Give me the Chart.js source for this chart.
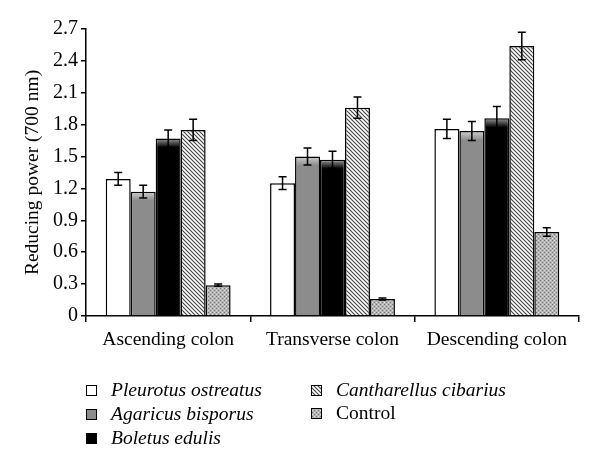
<!DOCTYPE html>
<html>
<head>
<meta charset="utf-8">
<script src="https://cdn.jsdelivr.net/npm/chart.js@4"></script>
<style>
  html, body { margin: 0; padding: 0; background: #fff; }
  #wrap { width: 600px; height: 473px; position: relative; }
</style>
</head>
<body>
<div id="wrap"><canvas id="RPChart" width="600" height="473"></canvas></div>
<script>
// categories and series
const categories = ['Ascending colon', 'Transverse colon', 'Descending colon'];
const seriesNames = ['Pleurotus ostreatus', 'Agaricus bisporus', 'Boletus edulis', 'Cantharellus cibarius', 'Control'];
const pleurotus = [1.29, 1.25, 1.76];
const agaricus = [1.17, 1.50, 1.74];
const boletus = [1.67, 1.47, 1.86];
const cantharellus = [1.75, 1.96, 2.54];
const control = [0.29, 0.16, 0.79];
// error bar half-heights
const pleurotusErr = [0.06, 0.06, 0.09];
const agaricusErr = [0.06, 0.08, 0.09];
const boletusErr = [0.08, 0.08, 0.11];
const cantharellusErr = [0.10, 0.10, 0.13];
const controlErr = [0.01, 0.01, 0.04];
const yTicks = [0, 0.3, 0.6, 0.9, 1.2, 1.5, 1.8, 2.1, 2.4, 2.7];

const serif = '"Liberation Serif", "DejaVu Serif", serif';
Chart.defaults.font.family = serif;
Chart.defaults.color = '#000';

//Patterns for the hatched and stippled bars
function hatchPattern() {
    const c = document.createElement('canvas');
    c.width = 4; c.height = 4;
    const ctx = c.getContext('2d');
    ctx.fillStyle = '#fff';
    ctx.fillRect(0, 0, 4, 4);
    ctx.strokeStyle = '#444';
    ctx.lineWidth = 1.1;
    ctx.beginPath();
    ctx.moveTo(-1, -1); ctx.lineTo(5, 5);
    ctx.moveTo(-1, 3); ctx.lineTo(1, 5);
    ctx.moveTo(3, -1); ctx.lineTo(5, 1);
    ctx.stroke();
    return ctx.createPattern(c, 'repeat');
}

function stipplePattern() {
    const c = document.createElement('canvas');
    c.width = 4; c.height = 4;
    const ctx = c.getContext('2d');
    ctx.fillStyle = '#b4b4b4';
    ctx.fillRect(0, 0, 4, 4);
    ctx.fillStyle = '#7a7a7a';
    ctx.fillRect(0, 0, 1, 1);
    ctx.fillRect(2, 2, 1, 1);
    ctx.fillStyle = '#dcdcdc';
    ctx.fillRect(2, 0, 1, 1);
    ctx.fillRect(0, 2, 1, 1);
    return ctx.createPattern(c, 'repeat');
}

const hatch = hatchPattern();
const stipple = stipplePattern();

// shaded top for the solid bars
function shadedFill(base, light) {
    return function (context) {
        const chart = context.chart;
        if (!chart.chartArea || context.type !== 'data') return base;
        const y = chart.scales.y.getPixelForValue(context.raw);
        const g = chart.ctx.createLinearGradient(0, y, 0, y + 9);
        g.addColorStop(0, light);
        g.addColorStop(1, base);
        return g;
    };
}

const errorSets = [pleurotusErr, agaricusErr, boletusErr, cantharellusErr, controlErr];

const errorBars = {
    id: 'errorBars',
    afterDatasetsDraw(chart) {
        const ctx = chart.ctx;
        const yScale = chart.scales.y;
        ctx.save();
        ctx.strokeStyle = '#000';
        ctx.lineWidth = 1.5;
        chart.data.datasets.forEach((ds, i) => {
            const meta = chart.getDatasetMeta(i);
            meta.data.forEach((bar, j) => {
                const v = ds.data[j];
                const e = errorSets[i][j];
                const top = yScale.getPixelForValue(v + e);
                const bot = yScale.getPixelForValue(v - e);
                ctx.beginPath();
                ctx.moveTo(bar.x, top); ctx.lineTo(bar.x, bot);
                ctx.moveTo(bar.x - 4, top); ctx.lineTo(bar.x + 4, top);
                ctx.moveTo(bar.x - 4, bot); ctx.lineTo(bar.x + 4, bot);
                ctx.stroke();
            });
        });
        ctx.restore();
    }
};

//Legend drawn in two columns under the axis
const legendBoxes = {
    id: 'legendBoxes',
    afterDraw(chart) {
        const ctx = chart.ctx;
        const spots = [[86, 390], [86, 414], [86, 438], [311, 390], [311, 413]];
        const fills = ['#fff', '#8c8c8c', '#000', hatch, stipple];
        ctx.save();
        chart.data.datasets.forEach((ds, i) => {
            const [x, y] = spots[i];
            ctx.fillStyle = fills[i];
            ctx.fillRect(x, y - 5, 10, 10);
            ctx.strokeStyle = '#000';
            ctx.lineWidth = 1;
            ctx.strokeRect(x + 0.5, y - 4.5, 10, 10);
            ctx.fillStyle = '#000';
            ctx.font = (i < 4 ? 'italic ' : '') + '19.5px ' + serif;
            ctx.textBaseline = 'middle';
            ctx.fillText(ds.label, x + 25, y + 1);
        });
        ctx.restore();
    }
};

document.addEventListener('DOMContentLoaded', () => {
    const RP = document.getElementById('RPChart');

    const data = {
        labels: categories,
        datasets: [{
            label: seriesNames[0],
            data: pleurotus,
            backgroundColor: '#fff'
        }, {
            label: seriesNames[1],
            data: agaricus,
            backgroundColor: shadedFill('#8c8c8c', '#d0d0d0')
        }, {
            label: seriesNames[2],
            data: boletus,
            backgroundColor: shadedFill('#000', '#9a9a9a')
        }, {
            label: seriesNames[3],
            data: cantharellus,
            backgroundColor: hatch
        }, {
            label: seriesNames[4],
            data: control,
            backgroundColor: stipple
        }]
    };
    data.datasets.forEach(ds => {
        ds.borderColor = '#000';
        ds.borderWidth = 1.5;
        ds.borderSkipped = 'bottom';
        ds.barPercentage = 1;
        ds.categoryPercentage = 0.76;
    });

    const config = {
        type: 'bar',
        data: data,
        options: {
            responsive: false,
            animation: false,
            layout: {
                padding: { top: 29, right: 21, left: 0, bottom: 0 }
            },
            scales: {
                x: {
                    offset: true,
                    grid: {
                        display: true,
                        offset: true,
                        drawOnChartArea: false,
                        drawTicks: true,
                        tickLength: 6,
                        color: '#000',
                        lineWidth: 1.5
                    },
                    border: { color: '#000', width: 1.5 },
                    ticks: {
                        font: { size: 19.5 },
                        padding: 6,
                        maxRotation: 0
                    },
                    afterFit(scale) { scale.height = 157; }
                },
                y: {
                    min: 0,
                    max: 2.7,
                    afterBuildTicks(scale) {
                        scale.ticks = yTicks.map(v => ({ value: v }));
                    },
                    grid: {
                        drawOnChartArea: false,
                        tickLength: 5,
                        color: '#000',
                        lineWidth: 1.5
                    },
                    border: { color: '#000', width: 1.5 },
                    ticks: {
                        font: { size: 20 },
                        padding: 3,
                        callback: v => v === 0 ? '0' : v.toFixed(1)
                    },
                    title: {
                        display: true,
                        text: 'Reducing power (700 nm)',
                        font: { size: 19.5 },
                        padding: { top: 21, bottom: 0 }
                    },
                    afterFit(scale) { scale.width = 86; }
                }
            },
            plugins: {
                legend: { display: false },
                tooltip: { enabled: false }
            }
        },
        plugins: [errorBars, legendBoxes]
    };
    new Chart(RP, config);
});
</script>
</body>
</html>
